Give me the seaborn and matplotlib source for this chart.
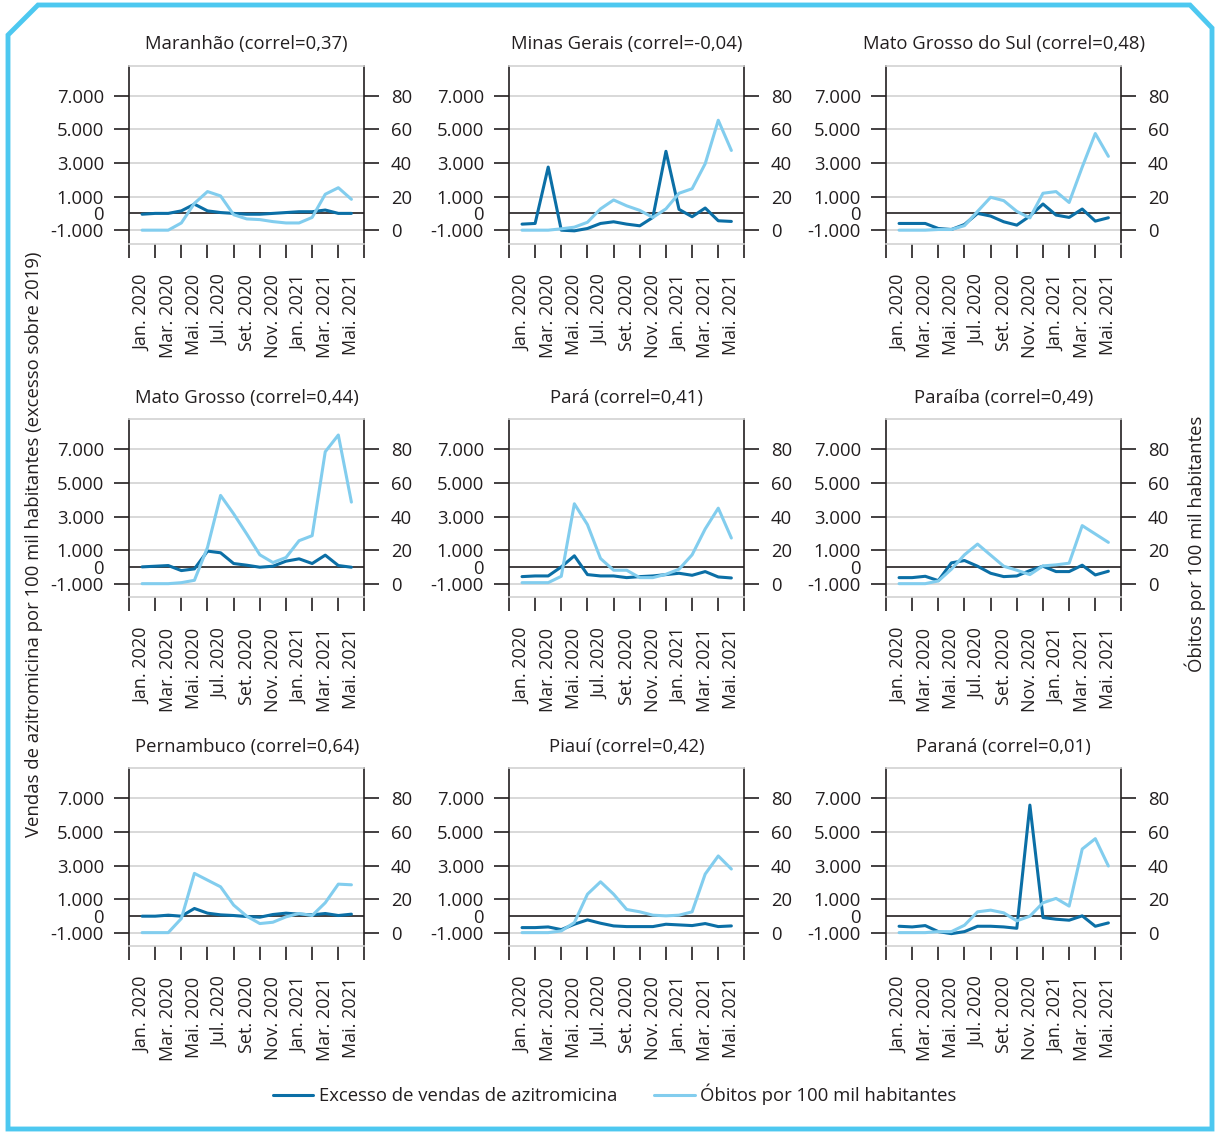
import pandas as pd
import numpy as np
import matplotlib.pyplot as plt
import seaborn as sns
from matplotlib.lines import Line2D
from matplotlib.patches import Polygon

sns.set_theme(style="white")
plt.rcParams['font.family'] = ['Open Sans', 'DejaVu Sans']
plt.rcParams['text.color'] = '#231f20'
plt.rcParams['xtick.color'] = '#231f20'
plt.rcParams['ytick.color'] = '#231f20'

meses = ['Jan. 2020', 'Fev. 2020', 'Mar. 2020', 'Abr. 2020', 'Mai. 2020', 'Jun. 2020',
         'Jul. 2020', 'Ago. 2020', 'Set. 2020', 'Out. 2020', 'Nov. 2020', 'Dez. 2020',
         'Jan. 2021', 'Fev. 2021', 'Mar. 2021', 'Abr. 2021', 'Mai. 2021']

estados = ['Maranhão', 'Minas Gerais', 'Mato Grosso do Sul',
           'Mato Grosso', 'Pará', 'Paraíba',
           'Pernambuco', 'Piauí', 'Paraná']
correl = ['0,37', '-0,04', '0,48', '0,44', '0,41', '0,49', '0,64', '0,42', '0,01']

# excesso de vendas de azitromicina (eixo esquerdo)
exc_ma = [-50, 0, 0, 150, 550, 150, 50, 0, -50, -50, 0, 50, 100, 100, 200, 0, 0]
exc_mg = [-640, -600, 2760, -1000, -1040, -900, -600, -500, -640, -740, -240, 3700, 240, -200, 320, -440, -480]
exc_ms = [-600, -600, -600, -900, -960, -660, 0, -160, -500, -700, -160, 560, -100, -240, 260, -460, -260]
exc_mt = [0, 40, 80, -220, -120, 940, 840, 200, 100, -20, 40, 340, 480, 200, 700, 80, -20]
exc_pa = [-580, -540, -540, 0, 660, -460, -540, -540, -640, -580, -540, -460, -380, -500, -280, -600, -660]
exc_pb = [-640, -640, -560, -820, 240, 380, 40, -380, -580, -540, -220, 40, -280, -280, 100, -480, -260]
exc_pe = [-20, -20, 40, -20, 440, 160, 60, 20, -40, -80, 80, 160, 100, 60, 140, 20, 100]
exc_pi = [-700, -700, -660, -820, -500, -240, -440, -600, -640, -640, -640, -500, -540, -580, -460, -640, -600]
exc_pr = [-620, -660, -580, -940, -1060, -940, -620, -620, -660, -740, 6600, -100, -200, -260, 0, -620, -420]

# óbitos por 100 mil habitantes (eixo direito)
obi_ma = [0, 0, 0, 4.3, 16, 23, 20.4, 9.2, 6.7, 6.3, 5.1, 4.3, 4.3, 7.6, 21.4, 25.3, 18.4]
obi_mg = [0, 0, 0, 0.8, 1.8, 4.7, 12.7, 18, 14.5, 11.8, 7.6, 12.7, 22, 24.7, 39.6, 65.5, 47.5]
obi_ms = [0, 0, 0, 0.4, 0.4, 2.7, 11.2, 19.6, 17.6, 11.2, 7.3, 22, 23, 16.5, 37.6, 57.6, 44]
obi_mt = [0, 0, 0, 0.6, 2, 21.6, 52.6, 41.6, 29.6, 17.2, 12.6, 15.6, 25.6, 28.6, 78.6, 88.6, 48.6]
obi_pa = [0.6, 0.6, 0.6, 4.4, 47.6, 35.2, 15, 8, 8, 3.6, 3.6, 5.6, 8.6, 17.2, 32.6, 45, 27.2]
obi_pb = [0, 0, 0, 1.6, 8.6, 17.2, 23.6, 17, 10.4, 8, 5.4, 10.6, 11.2, 12.2, 34.6, 29.6, 24.6]
obi_pe = [0, 0, 0, 8.4, 35.3, 31.3, 27.3, 16.4, 9.8, 5.4, 6.2, 9.4, 11.4, 10.2, 17.8, 28.9, 28.5]
obi_pi = [0, 0, 0, 1, 6, 22.9, 30.3, 22.9, 13.8, 12.4, 10.4, 10, 10.4, 12.4, 34.9, 45.7, 37.9]
obi_pr = [0, 0, 0, 0.6, 0.6, 4.4, 12.4, 13.4, 11.8, 7, 9.8, 17.8, 20.4, 15.8, 49.8, 56, 39.7]

excesso = [exc_ma, exc_mg, exc_ms, exc_mt, exc_pa, exc_pb, exc_pe, exc_pi, exc_pr]
obitos = [obi_ma, obi_mg, obi_ms, obi_mt, obi_pa, obi_pb, obi_pe, obi_pi, obi_pr]

cor_exc = '#0b6fa6'
cor_obi = '#82cdee'
cor_borda = '#4dc8f0'

yticks_esq = [-1000, 1000, 3000, 5000, 7000]
ylabels_esq = ['-1.000', '1.000', '3.000', '5.000', '7.000']
yticks_dir = [0, 20, 40, 60, 80]
ylim_esq = (-1800, 8800)

fs = 13.3

fig = plt.figure(figsize=(12.17, 11.33), dpi=100)

lefts = [0.106, 0.4182, 0.728]
bottoms = [0.785, 0.473, 0.165]
w, h = 0.1935, 0.157

idx = np.arange(len(meses))

for k, estado in enumerate(estados):
    r, c = divmod(k, 3)
    ax = fig.add_axes([lefts[c], bottoms[r], w, h])
    df = pd.DataFrame({'mes': idx, 'excesso': excesso[k], 'obitos': obitos[k]})

    ax.grid(False)
    for yv in yticks_esq:
        ax.axhline(yv, color='#d2d2d2', lw=1.2, zorder=0)
    ax.axhline(0, color='#231f20', lw=1.2, zorder=1)

    sns.lineplot(data=df, x='mes', y='excesso', ax=ax, color=cor_exc, lw=2.2, zorder=3)
    ax.set_ylim(*ylim_esq)
    ax.set_xlim(-1, len(meses))

    ax.yaxis.set_major_locator(plt.FixedLocator(yticks_esq))
    ax.set_yticklabels(ylabels_esq)
    ax.yaxis.set_minor_locator(plt.FixedLocator([0]))
    ax.yaxis.set_minor_formatter(plt.FixedFormatter(['0']))
    ax.tick_params(axis='y', which='major', left=True, length=11, width=1.2, pad=7, labelsize=fs)
    ax.tick_params(axis='y', which='minor', left=True, length=0, pad=18, labelsize=fs)

    ax.xaxis.set_major_locator(plt.FixedLocator(np.arange(-1, len(meses) + 1, 2)))
    ax.xaxis.set_major_formatter(plt.NullFormatter())
    ax.xaxis.set_minor_locator(plt.FixedLocator(idx[::2]))
    ax.xaxis.set_minor_formatter(plt.FixedFormatter(meses[::2]))
    ax.tick_params(axis='x', which='major', bottom=True, length=10, width=1.2, color='#231f20')
    ax.tick_params(axis='x', which='minor', bottom=True, length=0, pad=22, labelsize=13,
                   labelrotation=90)
    ax.set_xlabel('')
    ax.set_ylabel('')

    for s in ['top', 'bottom']:
        ax.spines[s].set_color('#d2d2d2')
        ax.spines[s].set_linewidth(1.2)
    for s in ['left', 'right']:
        ax.spines[s].set_color('#231f20')
        ax.spines[s].set_linewidth(1.2)

    ax2 = ax.twinx()
    sns.lineplot(data=df, x='mes', y='obitos', ax=ax2, color=cor_obi, lw=2.2)
    ax2.set_ylim((ylim_esq[0] + 1000) / 100, (ylim_esq[1] + 1000) / 100)
    ax2.yaxis.set_major_locator(plt.FixedLocator(yticks_dir))
    ax2.set_yticklabels([str(v) for v in yticks_dir])
    ax2.tick_params(axis='y', right=True, length=11, width=1.2, pad=8, labelsize=fs)
    ax2.grid(False)
    ax2.set_ylabel('')
    ax2.set_xlabel('')
    for s in ax2.spines.values():
        s.set_visible(False)

    ax.set_title(f'{estado} (correl={correl[k]})', fontsize=fs, pad=12)

fig.text(0.028, 0.52, 'Vendas de azitromicina por 100 mil habitantes (excesso sobre 2019)',
         rotation=90, ha='center', va='center', fontsize=fs)
fig.text(0.982, 0.52, 'Óbitos por 100 mil habitantes',
         rotation=90, ha='center', va='center', fontsize=fs)

handles = [Line2D([], [], color=cor_exc, lw=2.2), Line2D([], [], color=cor_obi, lw=2.2)]
fig.legend(handles, ['Excesso de vendas de azitromicina', 'Óbitos por 100 mil habitantes'],
           loc='center', bbox_to_anchor=(0.505, 0.034), ncol=2, frameon=False,
           fontsize=fs, handlelength=2.2, columnspacing=2.0, handletextpad=0.3)

W, H = 1217, 1133
pts = [(8, 35), (38, 5), (1190, 5), (1212, 28), (1212, 1129), (8, 1129)]
borda = Polygon([(x / W, 1 - y / H) for x, y in pts], closed=True, fill=False,
                edgecolor=cor_borda, lw=3.5, transform=fig.transFigure)
fig.patches.append(borda)

fig.savefig('out.png', dpi=100)
